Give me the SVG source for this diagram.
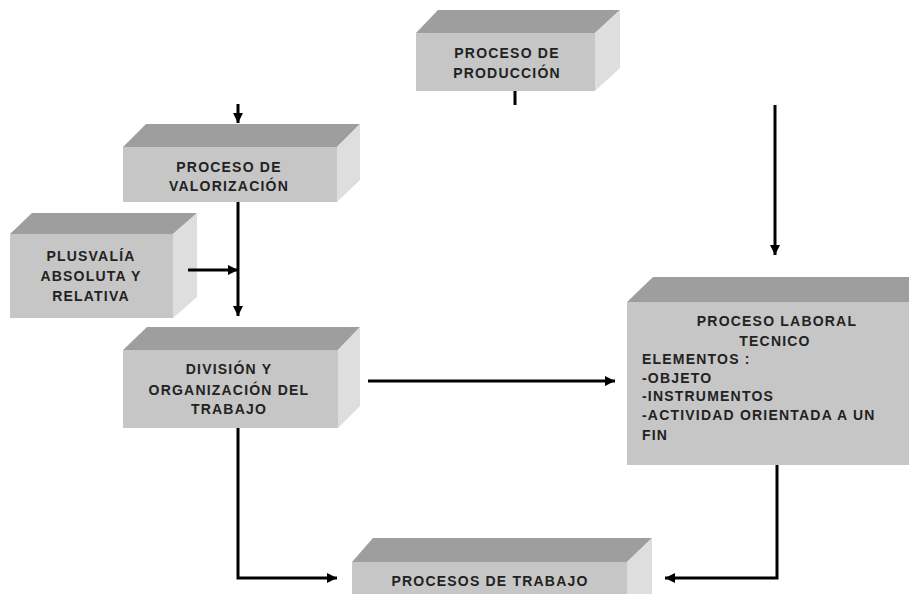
<svg xmlns="http://www.w3.org/2000/svg" width="909" height="594" viewBox="0 0 909 594">
<defs>
<marker id="ah" viewBox="0 0 10 10" refX="10" refY="5" markerWidth="10" markerHeight="10" markerUnits="userSpaceOnUse" orient="auto">
<path d="M0,0 L10,5 L0,10 Z" fill="#000"/>
</marker>
<style>
.front{fill:#c6c6c6}
.top{fill:#9e9e9e}
.side{fill:#dedede}
.t{font-family:"Liberation Sans",Arial,sans-serif;font-weight:bold;font-size:14px;fill:#222;letter-spacing:1.2px}
.c{text-anchor:middle}
.ln{stroke:#000;stroke-width:3;fill:none}
</style>
</defs>
<rect width="909" height="594" fill="#fff"/>
<g id="produccion">
<polygon class="top" points="416,33 438,10 620,10 595,33"/>
<polygon class="side" points="595,33 620,10 620,68 595,91"/>
<rect class="front" x="416" y="33" width="179" height="58"/>
<text class="t c" x="507" y="58">PROCESO DE</text>
<text class="t c" x="507" y="78">PRODUCCIÓN</text>
</g>
<g id="valorizacion">
<polygon class="top" points="123,147 146,124 360,124 337,147"/>
<polygon class="side" points="337,147 360,124 360,180 337,202"/>
<rect class="front" x="123" y="147" width="214" height="55"/>
<text class="t c" x="229" y="172">PROCESO DE</text>
<text class="t c" x="229" y="191">VALORIZACIÓN</text>
</g>
<g id="plusvalia">
<polygon class="top" points="10,234 32,213 197,213 173,234"/>
<polygon class="side" points="173,234 197,213 197,297 173,318"/>
<rect class="front" x="10" y="234" width="163" height="84"/>
<text class="t c" x="91" y="261">PLUSVALÍA</text>
<text class="t c" x="91" y="281">ABSOLUTA Y</text>
<text class="t c" x="91" y="301">RELATIVA</text>
</g>
<g id="division">
<polygon class="top" points="123,350 147,327 360,327 338,350"/>
<polygon class="side" points="338,350 360,327 360,406 338,428"/>
<rect class="front" x="123" y="350" width="215" height="78"/>
<text class="t c" x="229" y="374">DIVISIÓN Y</text>
<text class="t c" x="229" y="395">ORGANIZACIÓN DEL</text>
<text class="t c" x="229" y="414">TRABAJO</text>
</g>
<g id="laboral">
<polygon class="top" points="627,302 653,277 909,277 909,302"/>
<rect class="front" x="627" y="302" width="282" height="163"/>
<text class="t c" x="777" y="326">PROCESO LABORAL</text>
<text class="t c" x="775" y="346">TECNICO</text>
<text class="t" x="642" y="364">ELEMENTOS :</text>
<text class="t" x="642" y="383">-OBJETO</text>
<text class="t" x="642" y="401">-INSTRUMENTOS</text>
<text class="t" x="642" y="420">-ACTIVIDAD ORIENTADA A UN</text>
<text class="t" x="642" y="440">FIN</text>
</g>
<g id="trabajo">
<polygon class="top" points="352,562 373,538 652,538 627,562"/>
<polygon class="side" points="627,562 652,538 652,594 627,594"/>
<rect class="front" x="352" y="562" width="275" height="40"/>
<text class="t c" x="490" y="586">PROCESOS DE TRABAJO</text>
</g>
<g id="connectors">
<line class="ln" x1="238" y1="104" x2="238" y2="123" marker-end="url(#ah)"/>
<line class="ln" x1="515" y1="91" x2="515" y2="105"/>
<line class="ln" x1="775" y1="105" x2="775" y2="255" marker-end="url(#ah)"/>
<line class="ln" x1="238" y1="202" x2="238" y2="316" marker-end="url(#ah)"/>
<line class="ln" x1="188" y1="270" x2="238" y2="270" marker-end="url(#ah)"/>
<line class="ln" x1="368" y1="381" x2="615" y2="381" marker-end="url(#ah)"/>
<polyline class="ln" points="238,428 238,578 337,578" marker-end="url(#ah)"/>
<polyline class="ln" points="777,465 777,578 665,578" marker-end="url(#ah)"/>
</g>
</svg>
